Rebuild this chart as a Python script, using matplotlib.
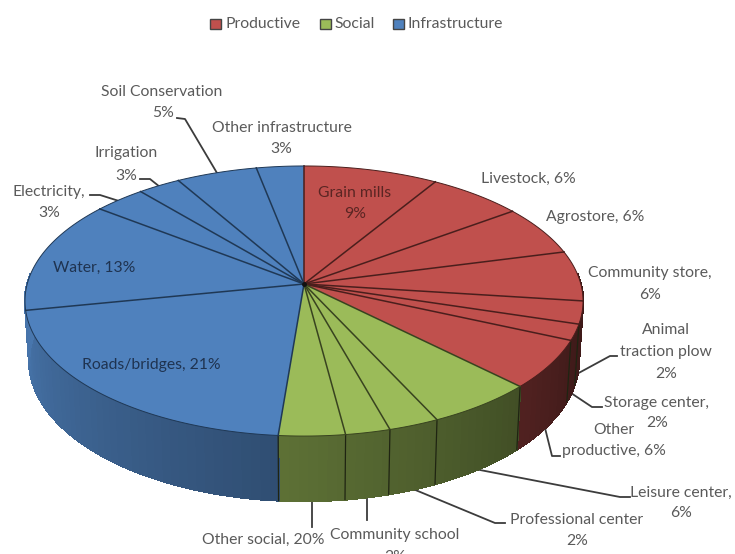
import numpy as np
import matplotlib
matplotlib.use('Agg')
import matplotlib.pyplot as plt
from matplotlib.patches import Polygon, Rectangle

plt.rcParams['font.family'] = 'Lato'

# slice shares as drawn, clockwise from 12 o'clock
names = ['Grain mills', 'Livestock', 'Agrostore', 'Community store', 'Animal traction plow',
         'Storage center', 'Other productive', 'Leisure center', 'Professional center',
         'Community school', 'Other social', 'Roads/bridges', 'Water', 'Electricity',
         'Irrigation', 'Soil Conservation', 'Other infrastructure']
shares = [8.8, 6.2, 6, 6, 2.7, 1.9, 5.8, 5.6, 2.6, 2.3, 3.4, 20.6, 13.5, 3.4, 2.8, 5.3, 3.1]
groups = [0, 0, 0, 0, 0, 0, 0, 1, 1, 1, 1, 2, 2, 2, 2, 2, 2]
group_names = ['Productive', 'Social', 'Infrastructure']
group_colors = ['#c0504d', '#9bbb59', '#4f81bd']
group_edges = ['#4a1e1c', '#38431f', '#1f3855']

TEXT = '#5a5a5a'
FS = 11.3
# perspective of the disc, in pixels
CX, CY, R, H, K = 304, 284, 276.8, 132.9, 0.126
DEPTH = 58.8
SHRINK = 0.985


def project(theta, lower=False):
    u, v = np.sin(theta), np.cos(theta)
    den = 1 + K * v
    if lower:
        return CX + SHRINK * R * u / den, CY - SHRINK * H * v / den + DEPTH / den
    return CX + R * u / den, CY - H * v / den


fig = plt.figure(figsize=(7.35, 5.54), dpi=100)
ax = fig.add_axes([0, 0, 1, 1])
ax.set_xlim(0, 735)
ax.set_ylim(554, 0)
ax.axis('off')

edges = np.radians(np.cumsum([0] + shares) / sum(shares) * 360)

# side wall, painted as strips so the shading runs round the disc
for i, g in enumerate(groups):
    base = np.array(matplotlib.colors.to_rgb(group_colors[g]))
    t = np.linspace(edges[i], edges[i + 1], int(shares[i] * 2) + 2)
    for a, b in zip(t[:-1], t[1:]):
        mid = np.degrees((a + b) / 2)
        if mid < 85 or mid > 275:
            continue
        shade = np.clip(0.33 + (mid - 110) / 150 * 0.55, 0.33, 0.92)
        x1, y1 = project(a)
        x2, y2 = project(b)
        x3, y3 = project(b, True)
        x4, y4 = project(a, True)
        ax.add_patch(Polygon([(x1, y1), (x2, y2), (x3, y3), (x4, y4)], facecolor=base * shade,
                             edgecolor=base * shade, lw=1.0, antialiased=False, zorder=2))

# separators of the wall
for a in edges[1:-1]:
    if 105 < np.degrees(a) < 250:
        x1, y1 = project(a)
        x2, y2 = project(a, True)
        ax.plot([x1, x2], [y1, y2], color='#1f2412', lw=0.9, zorder=3)

# top face
for i, g in enumerate(groups):
    t = np.linspace(edges[i], edges[i + 1], 60)
    x, y = project(t)
    pts = [(CX, CY)] + list(zip(x, y))
    ax.add_patch(Polygon(pts, facecolor=group_colors[g], edgecolor='none', zorder=4))
for i, g in enumerate(groups):
    t = np.linspace(edges[i], edges[i + 1], 60)
    x, y = project(t)
    ax.plot([CX, x[0]], [CY, y[0]], color=group_edges[g], lw=1.1, zorder=5)
    ax.plot(x, y, color=group_edges[g], lw=0.7, zorder=5)
ax.plot([CX], [CY], 'o', color='#111111', ms=2.5, zorder=6)

# labels: text, centre x, centre y, colour
label_text = ['Soil Conservation', '5%', 'Other infrastructure', '3%', 'Irrigation', '3%',
              'Electricity,', '3%', 'Water, 13%', 'Grain mills', '9%', 'Livestock, 6%',
              'Agrostore, 6%', 'Community store,', '6%', 'Animal', 'traction plow', '2%',
              'Storage center,', '2%', 'Other', 'productive, 6%', 'Leisure center,', '6%',
              'Professional center', '2%', 'Other social, 20%', 'Community school', '2%',
              'Roads/bridges, 21%']
label_x = [162, 163, 282, 281, 126, 126, 49, 49, 94, 355, 355, 528, 595, 650, 650, 666, 666, 666,
           657, 657, 614, 614, 681, 681, 577, 577, 263, 395, 395, 151]
label_y = [92, 113, 128, 149, 153, 176, 192, 213, 268, 193, 214, 179, 217, 273, 295, 330, 352, 374,
           403, 423, 430, 451, 493, 513, 520, 541, 540, 535, 557, 365]
label_color = [TEXT] * len(label_text)
label_color[8] = '#1f3350'
label_color[29] = '#1f3350'
label_color[9] = '#5a2523'
label_color[10] = '#5a2523'

for s, x, y, c in zip(label_text, label_x, label_y, label_color):
    ax.text(x, y, s, ha='center', va='center', color=c, fontsize=FS, zorder=7, clip_on=True)

# leader lines
leaders = [
    [(177, 118), (185, 119), (217, 173)],
    [(140, 179), (150, 179), (160, 187)],
    [(90, 195), (100, 195), (119, 201)],
    [(617, 356), (610, 356), (575, 375)],
    [(602, 407), (592, 407), (571, 393)],
    [(560, 456), (552, 456), (545, 428)],
    [(630, 497), (620, 497), (480, 470)],
    [(505, 523), (495, 523), (413, 489)],
    [(367, 498), (367, 520)],
    [(312, 502), (312, 527)],
]
for line in leaders:
    ax.plot(*zip(*line), color='#3c3c3c', lw=1.3, zorder=1)

# legend
legend_x = [210, 320, 393]
legend_text_x = [226, 334, 408]
for x, tx, name, c in zip(legend_x, legend_text_x, group_names, group_colors):
    ax.add_patch(Rectangle((x, 19), 11, 10, facecolor=c, edgecolor='#444444', lw=1))
    ax.text(tx, 23.5, name, ha='left', va='center', color=TEXT, fontsize=FS)

fig.savefig('out.png', dpi=100)
